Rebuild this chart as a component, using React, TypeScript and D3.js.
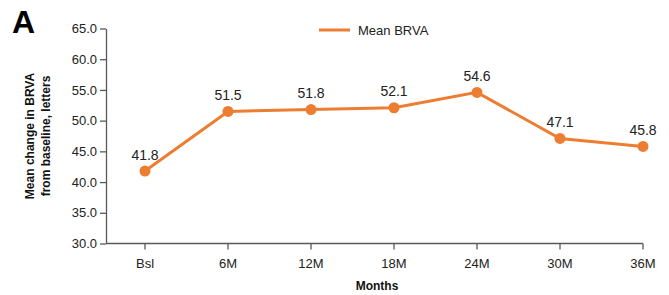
import React, { useRef, useEffect } from "react";
import * as d3 from "d3";

const months = ["Bsl", "6M", "12M", "18M", "24M", "30M", "36M"];
const meanBrva = [41.8, 51.5, 51.8, 52.1, 54.6, 47.1, 45.8];
const yTicks = [30, 35, 40, 45, 50, 55, 60, 65];

const ORANGE = "#ED7D31";
const AXIS = "#595959";
const FONT = "'Liberation Sans', Arial, sans-serif";

const App = () => {
  const svgRef = useRef<SVGSVGElement>(null);

  useEffect(() => {
    const svg = d3.select(svgRef.current);
    svg.selectAll("*").remove();

    const x = d3
      .scaleLinear()
      .domain([0, months.length - 1])
      .range([145, 643]);
    const y = d3.scaleLinear().domain([30, 65]).range([243.5, 28.5]);

    // panel letter
    svg
      .append("text")
      .attr("x", 12)
      .attr("y", 33)
      .attr("font-family", FONT)
      .attr("font-weight", "bold")
      .attr("font-size", 32)
      .text("A");

    // y axis
    const yAxis = svg
      .append("g")
      .attr("transform", "translate(106,0)")
      .call(
        d3
          .axisLeft(y)
          .tickValues(yTicks)
          .tickFormat(d3.format(".1f"))
          .tickSize(6)
          .tickSizeOuter(0)
      );
    yAxis.select(".domain").attr("stroke", AXIS).attr("stroke-width", 1.3);
    yAxis.selectAll(".tick line").attr("stroke", AXIS).attr("stroke-width", 1.3);
    yAxis
      .selectAll(".tick text")
      .attr("font-family", FONT)
      .attr("font-size", 13)
      .attr("fill", "#222")
      .attr("x", -9);

    // x axis
    const xAxis = svg
      .append("g")
      .attr("transform", `translate(0,${y(30)})`);
    xAxis
      .append("line")
      .attr("x1", 106)
      .attr("x2", x(months.length - 1))
      .attr("stroke", AXIS)
      .attr("stroke-width", 1.3);
    months.forEach((m, i) => {
      xAxis
        .append("line")
        .attr("x1", x(i))
        .attr("x2", x(i))
        .attr("y1", 0)
        .attr("y2", 6)
        .attr("stroke", AXIS)
        .attr("stroke-width", 1.3);
      xAxis
        .append("text")
        .attr("x", x(i))
        .attr("y", 24)
        .attr("text-anchor", "middle")
        .attr("font-family", FONT)
        .attr("font-size", 13)
        .attr("fill", "#222")
        .text(m);
    });

    // axis titles
    const yTitle = svg
      .append("text")
      .attr("transform", "translate(34,136) rotate(-90)")
      .attr("text-anchor", "middle")
      .attr("font-family", FONT)
      .attr("font-weight", "bold")
      .attr("font-size", 12)
      .attr("fill", "#111");
    yTitle.append("tspan").attr("x", 0).attr("dy", 0).text("Mean change in BRVA");
    yTitle
      .append("tspan")
      .attr("x", 0)
      .attr("dy", 16)
      .text("from baseline, letters");

    svg
      .append("text")
      .attr("x", 377)
      .attr("y", 290)
      .attr("text-anchor", "middle")
      .attr("font-family", FONT)
      .attr("font-weight", "bold")
      .attr("font-size", 12)
      .attr("fill", "#111")
      .text("Months");

    // line + points
    const line = d3
      .line<number>()
      .x((_, i) => x(i))
      .y((d) => y(d));

    svg
      .append("path")
      .datum(meanBrva)
      .attr("fill", "none")
      .attr("stroke", ORANGE)
      .attr("stroke-width", 3)
      .attr("d", line);

    svg
      .selectAll(".pt")
      .data(meanBrva)
      .enter()
      .append("circle")
      .attr("class", "pt")
      .attr("cx", (_, i) => x(i))
      .attr("cy", (d) => y(d))
      .attr("r", 5.5)
      .attr("fill", ORANGE);

    svg
      .selectAll(".lbl")
      .data(meanBrva)
      .enter()
      .append("text")
      .attr("class", "lbl")
      .attr("x", (_, i) => x(i))
      .attr("y", (d) => y(d) - 11.5)
      .attr("text-anchor", "middle")
      .attr("font-family", FONT)
      .attr("font-size", 14)
      .attr("fill", "#222")
      .text((d) => d.toFixed(1));

    // legend
    svg
      .append("line")
      .attr("x1", 319)
      .attr("x2", 350)
      .attr("y1", 30)
      .attr("y2", 30)
      .attr("stroke", ORANGE)
      .attr("stroke-width", 3);
    svg
      .append("text")
      .attr("x", 358)
      .attr("y", 34.5)
      .attr("font-family", FONT)
      .attr("font-size", 13)
      .attr("fill", "#222")
      .text("Mean BRVA");
  }, []);

  return (
    <div style={{ position: "absolute", left: 0, top: 0 }}>
      <svg ref={svgRef} width={669} height={295} style={{ display: "block", background: "#fff" }}></svg>
    </div>
  );
};

export default App;
